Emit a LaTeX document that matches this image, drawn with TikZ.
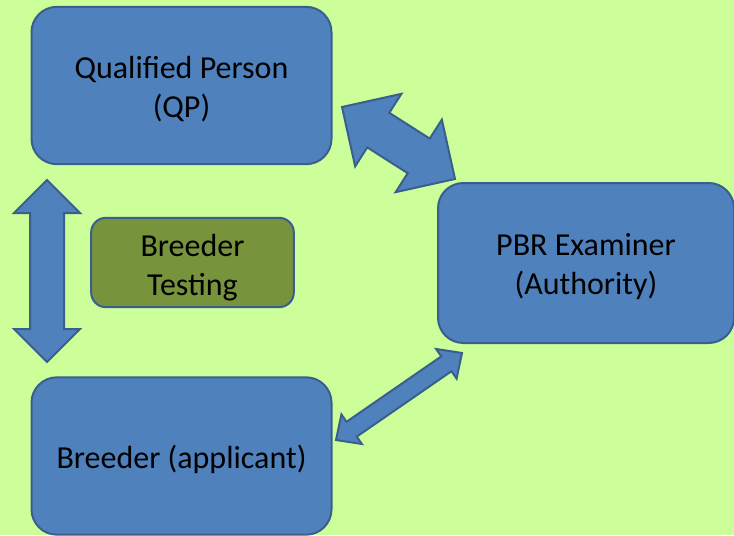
\documentclass[tikz,border=0pt]{standalone}
\usepackage{fontspec}
\setmainfont{Carlito}
\usepackage{xcolor}
\usetikzlibrary{positioning, calc}

\definecolor{bggreen}{HTML}{CCFF99}
\definecolor{boxblue}{HTML}{4F81BD}
\definecolor{boxline}{HTML}{3A5F8D}
\definecolor{olive}{HTML}{77933C}

% taller first line, pushes the text a little down
\newcommand\tup[1]{\rule{0pt}{#1}}

% block double arrow between two tips: shaft half width, head half width, head length (px)
\newcommand\blockarrow[5]{%
  \coordinate (hA) at ($(#1)!#5*0.75pt!(#2)$);
  \coordinate (hB) at ($(#2)!#5*0.75pt!(#1)$);
  \draw[blockarr] (#1) -- ($(hA)!#4*0.75pt!90:(#2)$) -- ($(hA)!#3*0.75pt!90:(#2)$)
    -- ($(hB)!#3*0.75pt!-90:(#1)$) -- ($(hB)!#4*0.75pt!-90:(#1)$) -- (#2)
    -- ($(hB)!#4*0.75pt!90:(#1)$) -- ($(hB)!#3*0.75pt!90:(#1)$)
    -- ($(hA)!#3*0.75pt!-90:(#2)$) -- ($(hA)!#4*0.75pt!-90:(#2)$) -- cycle;
}

\begin{document}
\begin{tikzpicture}[
    x=0.75pt, y=-0.75pt,
    party/.style={rectangle, draw=boxline, fill=boxblue, line width=1.5pt, rounded corners=19pt, align=center, minimum width=225pt, minimum height=118pt, inner sep=0pt},
    testbox/.style={rectangle, draw=boxline, fill=olive, line width=1.5pt, rounded corners=11pt, align=center, minimum width=152pt, minimum height=67pt, inner sep=0pt},
    blockarr/.style={fill=boxblue, draw=boxline, line width=1.5pt, line join=miter},
    every node/.style={font=\fontsize{24pt}{29pt}\selectfont, text=black}
]

% Background
\fill[bggreen] (0,0) rectangle (734,535);
\useasboundingbox (0,0) rectangle (734,535);

% Nodes
\node[party] (qp) at (181.5,85.5) {\tup{22pt}Qualified Person\\(QP)};
\node[party, minimum width=222pt, minimum height=120pt] (pbr) at (586,263) {\tup{22pt}PBR Examiner\\(Authority)};
\node[party] (breeder) at (181.5,456) {\tup{23pt}Breeder (applicant)};
\node[testbox] (testing) at (192.5,262.5) {\tup{24pt}Breeder\\Testing};

% Arrow ends
\coordinate (qpDown) at (47,180);
\coordinate (brUp) at (47,362);
\coordinate (qpRight) at (342,107);
\coordinate (pbrTop) at (455,179);
\coordinate (pbrLeft) at (462,353);
\coordinate (brRight) at (336,440);

% Arrows
\blockarrow{qpDown}{brUp}{17}{33}{33}
\blockarrow{qpRight}{pbrTop}{20.5}{43}{43}
\blockarrow{pbrLeft}{brRight}{9}{18}{19}

\end{tikzpicture}
\end{document}
